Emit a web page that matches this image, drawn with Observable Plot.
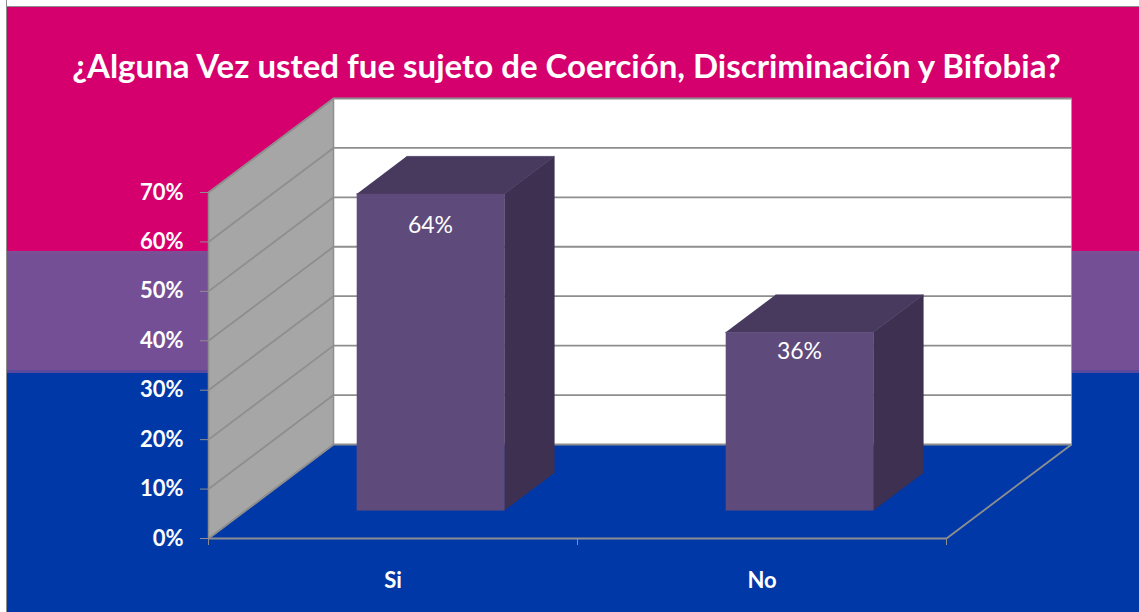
<!DOCTYPE html>
<html><head><meta charset="utf-8">
<script src="https://cdn.jsdelivr.net/npm/d3@7"></script>
<script src="https://cdn.jsdelivr.net/npm/@observablehq/plot@0.6"></script>
<style>
html,body{margin:0;padding:0;background:#fff;}
#chart{width:1139px;height:612px;position:relative;}
</style>
</head><body><div id="chart"></div>
<script>
// ---- data ----
const title = "¿Alguna Vez usted fue sujeto de Coerción, Discriminación y Bifobia?";
const categories = ["Si", "No"];
const values = [0.64, 0.36];
const valueLabels = ["64%", "36%"];
const yTicks = [0, 0.1, 0.2, 0.3, 0.4, 0.5, 0.6, 0.7];
const yTickLabels = ["0%", "10%", "20%", "30%", "40%", "50%", "60%", "70%"];

// ---- 3D projection (oblique depth) ----
const DX = 0.3388, DY = 0.1902;      // full depth, in category units / value units
const YMAX = 0.7, NCAT = categories.length;
const BAR_HALF = 0.2, BAR_Z0 = 0.3, BAR_Z1 = 0.7;
const proj = (x, y, z) => ({x: x + z * DX, y: y + z * DY});
const poly = (id, pts, close = false) => {
  const p = close ? [...pts, pts[0]] : pts;
  return p.map(([x, y, z]) => ({id, ...proj(x, y, z)}));
};

const backWall = poly("back", [[0,0,1],[NCAT,0,1],[NCAT,YMAX,1],[0,YMAX,1]], true);
const sideWall = poly("side", [[0,0,0],[0,0,1],[0,YMAX,1],[0,YMAX,0]], true);
const grid = yTicks.flatMap((v, k) => poly("g" + k, [[0,v,0],[0,v,1],[NCAT,v,1]]));
const floorEdge = poly("floor", [[0,0,0],[NCAT,0,0],[NCAT,0,1]]);

const barFront = [], barSide = [], barTop = [];
values.forEach((v, i) => {
  const x0 = i + 0.5 - BAR_HALF, x1 = i + 0.5 + BAR_HALF;
  barFront.push(...poly("f" + i, [[x0,0,BAR_Z0],[x1,0,BAR_Z0],[x1,v,BAR_Z0],[x0,v,BAR_Z0]]));
  barSide.push(...poly("s" + i, [[x1,0,BAR_Z0],[x1,0,BAR_Z1],[x1,v,BAR_Z1],[x1,v,BAR_Z0]]));
  barTop.push(...poly("t" + i, [[x0,v,BAR_Z0],[x1,v,BAR_Z0],[x1,v,BAR_Z1],[x0,v,BAR_Z1]]));
});
const labelPts = values.map((v, i) => ({...proj(i + 0.5, v, BAR_Z0), text: valueLabels[i], i}));

const GRID = "#8e8e8e";
const bg = "linear-gradient(to right, #fff 0 6px, #8c8c8c 6px 7px, transparent 7px), " +
  "linear-gradient(to bottom, #fff 0 6px, #8c8c8c 6px 7px, #D5006E 7px 251px, #7a4f95 251px 254px, #744F96 254px 370px, #5a4a9e 370px 373px, #0038A8 373px)";

const chart = Plot.plot({
  width: 1139, height: 612,
  marginLeft: 208, marginRight: 193, marginTop: 192, marginBottom: 74,
  x: {type: "linear", domain: [0, NCAT]},
  y: {type: "linear", domain: [0, YMAX]},
  style: {background: bg, fontFamily: "Lato, 'Open Sans', sans-serif", overflow: "visible"},
  marks: [
    Plot.line(backWall, {x: "x", y: "y", z: "id", fill: "white", stroke: "#a0a0a0", strokeWidth: 1}),
    Plot.line(sideWall, {x: "x", y: "y", z: "id", fill: "#A6A6A6", stroke: GRID, strokeWidth: 1.5}),
    Plot.line(grid, {x: "x", y: "y", z: "id", stroke: GRID, strokeWidth: 1.8, strokeLinecap: "butt"}),
    Plot.line(floorEdge, {x: "x", y: "y", z: "id", stroke: GRID, strokeWidth: 1.8, strokeLinecap: "butt"}),
    Plot.axisY({ticks: yTicks, tickSize: 8, tickPadding: 17, stroke: GRID, fill: "white", label: null,
      tickFormat: d => yTickLabels[yTicks.indexOf(d)], fontSize: 22, fontWeight: "bold"}),
    Plot.axisX({ticks: [0, 1, 2], tickSize: 7, stroke: GRID, label: null, tickFormat: () => ""}),
    Plot.line(barSide, {x: "x", y: "y", z: "id", fill: "#3E3051", stroke: "#3E3051", strokeWidth: 0.5}),
    Plot.line(barTop, {x: "x", y: "y", z: "id", fill: "#48395E", stroke: "#48395E", strokeWidth: 0.5}),
    Plot.line(barFront, {x: "x", y: "y", z: "id", fill: "#5F4B7B", stroke: "#5F4B7B", strokeWidth: 0.5}),
    Plot.text(labelPts.filter(d => d.i === 0), {x: "x", y: "y", text: "text", dy: 32, fill: "white", fontSize: 23}),
    Plot.text(labelPts.filter(d => d.i === 1), {x: "x", y: "y", text: "text", dy: 19, fill: "white", fontSize: 23}),
    Plot.text(categories, {x: (d, i) => i + 0.5, y: () => 0, text: d => d, dy: 42, fill: "white", fontSize: 22, fontWeight: "bold"}),
    Plot.text([title], {frameAnchor: "top", lineAnchor: "middle", dy: -125, dx: -11, fill: "white", fontSize: 33, fontWeight: "bold"})
  ]
});
document.getElementById("chart").appendChild(chart);
</script>
</body></html>
